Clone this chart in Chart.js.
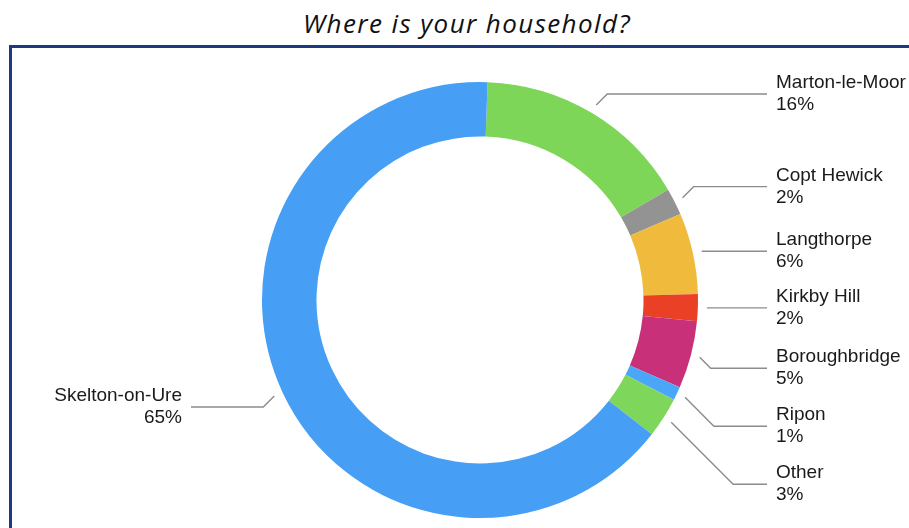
<!DOCTYPE html>
<html>
<head>
<meta charset="utf-8">
<script src="https://cdn.jsdelivr.net/npm/chart.js@4.4.1/dist/chart.umd.min.js"></script>
<style>
  html, body { margin: 0; padding: 0; background: #ffffff; }
  body { width: 909px; height: 528px; position: relative; overflow: hidden; }
  #title {
    position: absolute; left: 0; top: 7px; width: 934px; text-align: center;
    font-family: "Open Sans", Lato, sans-serif; font-style: italic; font-size: 26px;
    letter-spacing: 1.4px;
    color: #111; line-height: 32px;
  }
  #box {
    position: absolute; left: 9px; top: 45px; width: 940px; height: 520px;
    border: 3px solid #1c3a82; box-sizing: border-box;
  }
  #wrap { position: absolute; left: 0; top: 0; width: 909px; height: 528px; }
</style>
</head>
<body>
<div id="title">Where is your household?</div>
<div id="box"></div>
<div id="wrap"><canvas id="c" width="909" height="528"></canvas></div>
<script>
const categories = ["Marton-le-Moor", "Copt Hewick", "Langthorpe", "Kirkby Hill", "Boroughbridge", "Ripon", "Other", "Skelton-on-Ure"];
const percentages = [16, 2, 6, 2, 5, 1, 3, 65];
const percentLabels = ["16%", "2%", "6%", "2%", "5%", "1%", "3%", "65%"];
const sliceColors = ["#7ed658", "#939393", "#f0bb3d", "#ea4126", "#c8317a", "#4aa6f6", "#7ed65b", "#469ff4"];

const leaderPlugin = {
  id: 'leaders',
  afterDatasetsDraw(chart, args, opts) {
    const ctx = chart.ctx;
    const meta = chart.getDatasetMeta(0);
    const items = [];
    meta.data.forEach((arc, i) => {
      const p = arc.getProps(['x', 'y', 'startAngle', 'endAngle', 'outerRadius'], true);
      const mid = (p.startAngle + p.endAngle) / 2;
      const r = p.outerRadius + opts.anchorGap;
      const ax = p.x + Math.cos(mid) * r;
      const ay = p.y + Math.sin(mid) * r;
      const right = Math.cos(mid) >= 0;
      const dy = ay - p.y;
      let ly = ay;
      if (Math.abs(dy) > opts.flatZone) ly = ay + Math.sign(dy) * opts.minSlant;
      items.push({ i, ax, ay, ly, right, cx: p.x, cy: p.y, R: p.outerRadius, below: dy > 0 });
    });
    [true, false].forEach(side => {
      const s = items.filter(it => it.right === side);
      const below = s.filter(it => it.below).sort((a, b) => a.ly - b.ly);
      for (let k = 1; k < below.length; k++) {
        if (below[k].ly - below[k - 1].ly < opts.minGap) below[k].ly = below[k - 1].ly + opts.minGap;
      }
      const above = s.filter(it => !it.below).sort((a, b) => b.ly - a.ly);
      for (let k = 1; k < above.length; k++) {
        if (above[k - 1].ly - above[k].ly < opts.minGap) above[k].ly = above[k - 1].ly - opts.minGap;
      }
    });
    ctx.save();
    items.forEach(it => {
      const d = Math.abs(it.ly - it.ay);
      const ex = it.ax + (it.right ? d : -d);
      const colX = it.right ? it.cx + it.R + opts.colRight : it.cx - it.R - opts.colLeft;
      ctx.strokeStyle = opts.lineColor;
      ctx.lineWidth = 1.4;
      ctx.beginPath();
      ctx.moveTo(it.ax, it.ay);
      ctx.lineTo(ex, it.ly);
      ctx.lineTo(colX, it.ly);
      ctx.stroke();
      ctx.fillStyle = '#1a1a1a';
      ctx.font = opts.font;
      ctx.textBaseline = 'middle';
      ctx.textAlign = it.right ? 'left' : 'right';
      const tx = it.right ? colX + opts.textGap : colX - opts.textGap;
      ctx.fillText(categories[it.i], tx, it.ly - opts.halfLine);
      ctx.fillText(percentLabels[it.i], tx, it.ly + opts.halfLine);
    });
    ctx.restore();
  }
};

new Chart(document.getElementById('c'), {
  type: 'doughnut',
  data: {
    labels: categories,
    datasets: [{
      data: percentages,
      backgroundColor: sliceColors,
      borderWidth: 0
    }]
  },
  options: {
    responsive: false,
    animation: false,
    cutout: '75%',
    rotation: 2,
    layout: { padding: { top: 82, bottom: 10, left: 262, right: 211 } },
    plugins: {
      legend: { display: false },
      tooltip: { enabled: false },
      title: { display: false },
      leaders: {
        anchorGap: 9,
        flatZone: 55,
        minSlant: 11,
        minGap: 58,
        colRight: 69,
        colLeft: 71,
        textGap: 9,
        halfLine: 11,
        lineColor: '#8c8c8c',
        font: '19px "Liberation Sans", Arial, sans-serif'
      }
    }
  },
  plugins: [leaderPlugin]
});
</script>
</body>
</html>
